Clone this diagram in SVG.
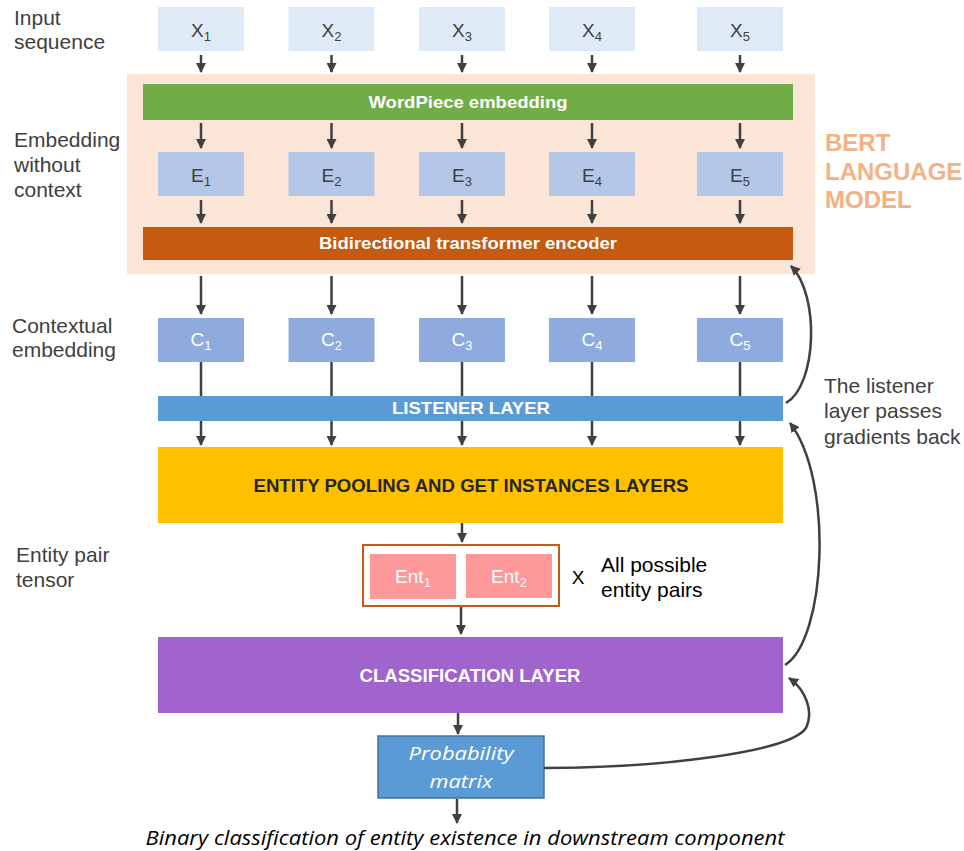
<svg xmlns="http://www.w3.org/2000/svg" width="964" height="851" viewBox="0 0 964 851">
<defs>
<marker id="ah" markerUnits="userSpaceOnUse" markerWidth="10" markerHeight="10" viewBox="0 0 10 10" refX="9" refY="5" orient="auto">
<path d="M0,0 L10,5 L0,10 z" fill="#404040"/>
</marker>
<style>
text{font-family:"Liberation Sans",Arial,sans-serif}
.lbl{font-size:21px;fill:#404040}
.tok{font-size:19px;text-anchor:middle}
.sub{font-size:13px}
.bold{font-weight:bold;text-anchor:middle}
.xb{fill:#DEEBF7}
.eb{fill:#B4C7E7}
.cb{fill:#8FAADC}
.ar{stroke:#404040;stroke-width:2.5;fill:none;marker-end:url(#ah)}
.ln{stroke:#404040;stroke-width:2.5;fill:none}
.cv{stroke:#404040;stroke-width:2.5;fill:none;marker-end:url(#ah)}
.it{font-family:"Open Sans","Noto Sans",sans-serif;font-style:italic}
</style>
</defs>

<g id="bert-bg"><rect x="127" y="74" width="688" height="200" fill="#FBE5D6"/></g>
<g id="bert-label">
<text x="825" y="151" font-size="24" font-weight="bold" fill="#F4B183">BERT</text>
<text x="825" y="180" font-size="24" font-weight="bold" fill="#F4B183">LANGUAGE</text>
<text x="825" y="208" font-size="24" font-weight="bold" fill="#F4B183">MODEL</text>
</g>

<g id="side-labels">
<text class="lbl" x="14" y="25">Input</text>
<text class="lbl" x="14" y="49">sequence</text>
<text class="lbl" x="14" y="147">Embedding</text>
<text class="lbl" x="14" y="172">without</text>
<text class="lbl" x="14" y="197">context</text>
<text class="lbl" x="12" y="333">Contextual</text>
<text class="lbl" x="12" y="357">embedding</text>
<text class="lbl" x="16" y="562">Entity pair</text>
<text class="lbl" x="16" y="587">tensor</text>
<text class="lbl" x="824" y="393">The listener</text>
<text class="lbl" x="824" y="418">layer passes</text>
<text class="lbl" x="824" y="444">gradients back</text>
</g>

<g id="x1"><rect class="xb" x="158" y="7" width="86" height="44"/><text class="tok" x="201" y="37" fill="#404040">X<tspan class="sub" dy="4">1</tspan></text></g>
<g id="x2"><rect class="xb" x="288.5" y="7" width="86" height="44"/><text class="tok" x="331.5" y="37" fill="#404040">X<tspan class="sub" dy="4">2</tspan></text></g>
<g id="x3"><rect class="xb" x="419" y="7" width="86" height="44"/><text class="tok" x="462" y="37" fill="#404040">X<tspan class="sub" dy="4">3</tspan></text></g>
<g id="x4"><rect class="xb" x="549" y="7" width="86" height="44"/><text class="tok" x="592" y="37" fill="#404040">X<tspan class="sub" dy="4">4</tspan></text></g>
<g id="x5"><rect class="xb" x="697" y="7" width="86" height="44"/><text class="tok" x="740" y="37" fill="#404040">X<tspan class="sub" dy="4">5</tspan></text></g>

<g id="wordpiece"><rect x="143" y="84" width="650" height="36" fill="#70AD47"/><text class="bold" x="468" y="108" font-size="16" fill="#FFFFFF" textLength="199" lengthAdjust="spacingAndGlyphs">WordPiece embedding</text></g>

<g id="e1"><rect class="eb" x="158" y="152" width="86" height="44"/><text class="tok" x="201" y="182" fill="#404040">E<tspan class="sub" dy="4">1</tspan></text></g>
<g id="e2"><rect class="eb" x="288.5" y="152" width="86" height="44"/><text class="tok" x="331.5" y="182" fill="#404040">E<tspan class="sub" dy="4">2</tspan></text></g>
<g id="e3"><rect class="eb" x="419" y="152" width="86" height="44"/><text class="tok" x="462" y="182" fill="#404040">E<tspan class="sub" dy="4">3</tspan></text></g>
<g id="e4"><rect class="eb" x="549" y="152" width="86" height="44"/><text class="tok" x="592" y="182" fill="#404040">E<tspan class="sub" dy="4">4</tspan></text></g>
<g id="e5"><rect class="eb" x="697" y="152" width="86" height="44"/><text class="tok" x="740" y="182" fill="#404040">E<tspan class="sub" dy="4">5</tspan></text></g>

<g id="transformer"><rect x="143" y="227" width="650" height="33" fill="#C55A11"/><text class="bold" x="468" y="249" font-size="16" fill="#FFFFFF" textLength="298" lengthAdjust="spacingAndGlyphs">Bidirectional transformer encoder</text></g>

<g id="c1"><rect class="cb" x="158" y="318" width="86" height="44"/><text class="tok" x="201" y="346" fill="#FFFFFF">C<tspan class="sub" dy="4">1</tspan></text></g>
<g id="c2"><rect class="cb" x="288.5" y="318" width="86" height="44"/><text class="tok" x="331.5" y="346" fill="#FFFFFF">C<tspan class="sub" dy="4">2</tspan></text></g>
<g id="c3"><rect class="cb" x="419" y="318" width="86" height="44"/><text class="tok" x="462" y="346" fill="#FFFFFF">C<tspan class="sub" dy="4">3</tspan></text></g>
<g id="c4"><rect class="cb" x="549" y="318" width="86" height="44"/><text class="tok" x="592" y="346" fill="#FFFFFF">C<tspan class="sub" dy="4">4</tspan></text></g>
<g id="c5"><rect class="cb" x="697" y="318" width="86" height="44"/><text class="tok" x="740" y="346" fill="#FFFFFF">C<tspan class="sub" dy="4">5</tspan></text></g>

<g id="listener"><rect x="158" y="396" width="625" height="25" fill="#5B9BD5"/><text class="bold" x="471" y="414" font-size="16" fill="#FFFFFF" textLength="158" lengthAdjust="spacingAndGlyphs">LISTENER LAYER</text></g>

<g id="entity-pooling"><rect x="158" y="447" width="625" height="76" fill="#FFC000"/><text class="bold" x="471" y="492" font-size="18" fill="#262626" textLength="435" lengthAdjust="spacingAndGlyphs">ENTITY POOLING AND GET INSTANCES LAYERS</text></g>

<g id="entity-pair">
<rect x="363" y="545" width="196" height="61" fill="#FFFFFF" stroke="#C55A11" stroke-width="2"/>
<rect x="370" y="554" width="86" height="45" fill="#FF9999"/>
<rect x="466" y="554" width="86" height="44" fill="#FF9999"/>
<text class="tok" x="413" y="583" fill="#FFFFFF">Ent<tspan class="sub" dy="4">1</tspan></text>
<text class="tok" x="509" y="583" fill="#FFFFFF">Ent<tspan class="sub" dy="4">2</tspan></text>
</g>
<g id="pairs-note">
<text x="578" y="584" font-size="19" fill="#000000" text-anchor="middle">X</text>
<text x="601" y="572" font-size="21" fill="#000000">All possible</text>
<text x="601" y="597" font-size="21" fill="#000000">entity pairs</text>
</g>

<g id="classification"><rect x="158" y="637" width="625" height="76" fill="#A064CC"/><text class="bold" x="470" y="682" font-size="18" fill="#FFFFFF" textLength="221" lengthAdjust="spacingAndGlyphs">CLASSIFICATION LAYER</text></g>

<g id="probability"><rect x="378" y="736" width="166" height="62" fill="#5B9BD5" stroke="#41719C" stroke-width="1.5"/>
<text class="it" x="461" y="760" font-size="19" fill="#FFFFFF" text-anchor="middle" textLength="105" lengthAdjust="spacingAndGlyphs">Probability</text>
<text class="it" x="461" y="788" font-size="19" fill="#FFFFFF" text-anchor="middle" textLength="63" lengthAdjust="spacingAndGlyphs">matrix</text>
</g>

<g id="output-label"><text class="it" x="465" y="845" font-size="20" fill="#000000" text-anchor="middle" textLength="639" lengthAdjust="spacingAndGlyphs">Binary classification of entity existence in downstream component</text></g>

<g id="connectors">
<line class="ar" x1="201" y1="55" x2="201" y2="72"/>
<line class="ar" x1="331.5" y1="55" x2="331.5" y2="72"/>
<line class="ar" x1="462" y1="55" x2="462" y2="72"/>
<line class="ar" x1="592" y1="55" x2="592" y2="72"/>
<line class="ar" x1="740" y1="55" x2="740" y2="72"/>

<line class="ar" x1="201" y1="123" x2="201" y2="148"/>
<line class="ar" x1="331.5" y1="123" x2="331.5" y2="148"/>
<line class="ar" x1="462" y1="123" x2="462" y2="148"/>
<line class="ar" x1="592" y1="123" x2="592" y2="148"/>
<line class="ar" x1="740" y1="123" x2="740" y2="148"/>

<line class="ar" x1="201" y1="200" x2="201" y2="223"/>
<line class="ar" x1="331.5" y1="200" x2="331.5" y2="223"/>
<line class="ar" x1="462" y1="200" x2="462" y2="223"/>
<line class="ar" x1="592" y1="200" x2="592" y2="223"/>
<line class="ar" x1="740" y1="200" x2="740" y2="223"/>

<line class="ar" x1="201" y1="276" x2="201" y2="314"/>
<line class="ar" x1="331.5" y1="276" x2="331.5" y2="314"/>
<line class="ar" x1="462" y1="276" x2="462" y2="314"/>
<line class="ar" x1="592" y1="276" x2="592" y2="314"/>
<line class="ar" x1="740" y1="276" x2="740" y2="314"/>

<line class="ln" x1="201" y1="362" x2="201" y2="396"/>
<line class="ln" x1="331.5" y1="362" x2="331.5" y2="396"/>
<line class="ln" x1="462" y1="362" x2="462" y2="396"/>
<line class="ln" x1="592" y1="362" x2="592" y2="396"/>
<line class="ln" x1="740" y1="362" x2="740" y2="396"/>

<line class="ar" x1="201" y1="421" x2="201" y2="445"/>
<line class="ar" x1="331.5" y1="421" x2="331.5" y2="445"/>
<line class="ar" x1="462" y1="421" x2="462" y2="445"/>
<line class="ar" x1="592" y1="421" x2="592" y2="445"/>
<line class="ar" x1="740" y1="421" x2="740" y2="445"/>

<line class="ar" x1="462" y1="523" x2="462" y2="542"/>
<line class="ar" x1="461" y1="607" x2="461" y2="634"/>
<line class="ar" x1="458" y1="713" x2="458" y2="734"/>
<line class="ar" x1="457" y1="799" x2="457" y2="823"/>

<path class="cv" d="M786 403 C817 385, 820 295, 791 266"/>
<path class="cv" d="M785 665 C826 640, 834 480, 790 423"/>
<path class="cv" d="M544 768 C660 768, 790 752, 806 728 C814 712, 806 690, 789 678"/>
</g>
</svg>
